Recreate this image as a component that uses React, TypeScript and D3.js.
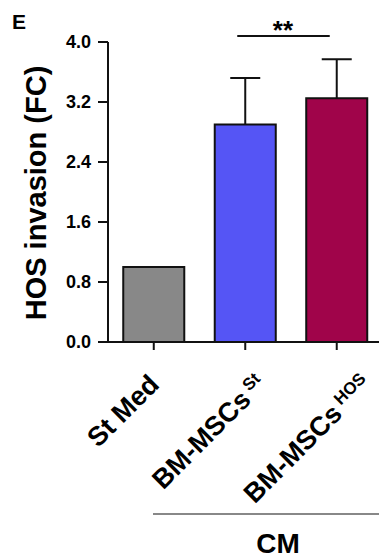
import React, { useEffect, useRef } from "react";
import * as d3 from "d3";

const categories = ["St Med", "BM-MSCs", "BM-MSCs"];
const superscripts = ["", "St", "HOS"];
const means = [1.0, 2.9, 3.25];
const errors = [0, 0.62, 0.52];
const colors = ["#888888", "#5555f5", "#a0044a"];
const yTicks = [0.0, 0.8, 1.6, 2.4, 3.2, 4.0];
const yLabel = "HOS invasion (FC)";
const panelLabel = "E";
const sigLabel = "**";
const groupLabel = "CM";

const W = 379;
const H = 560;
const FONT = "'Liberation Sans', Arial, Helvetica, sans-serif";

export default function App() {
  const ref = useRef<SVGSVGElement | null>(null);

  useEffect(() => {
    const svg = d3.select(ref.current);
    svg.selectAll("*").remove();

    const axisX = 108;
    const y = d3.scaleLinear().domain([0, 4]).range([342, 42]);
    const x = d3
      .scaleBand<number>()
      .domain(d3.range(categories.length))
      .range([axisX, 382.5])
      .paddingInner(0.333)
      .paddingOuter(0.1667);

    const g = svg.append("g").attr("font-family", FONT).attr("font-weight", "bold");

    // panel label
    g.append("text").attr("x", 12).attr("y", 29).attr("font-size", 21).text(panelLabel);

    // y label
    g.append("text")
      .attr("transform", `translate(46,193) rotate(-90)`)
      .attr("text-anchor", "middle")
      .attr("font-size", 29)
      .text(yLabel);

    // bars
    categories.forEach((c, i) => {
      const bx = x(i)!;
      const bw = x.bandwidth();
      g.append("rect")
        .attr("x", bx)
        .attr("y", y(means[i]))
        .attr("width", bw)
        .attr("height", y(0) - y(means[i]))
        .attr("fill", colors[i])
        .attr("stroke", "#111")
        .attr("stroke-width", 2);
      if (errors[i] > 0) {
        const cx = bx + bw / 2;
        g.append("line")
          .attr("x1", cx).attr("x2", cx)
          .attr("y1", y(means[i])).attr("y2", y(means[i] + errors[i]))
          .attr("stroke", "#111").attr("stroke-width", 2);
        g.append("line")
          .attr("x1", cx - 15).attr("x2", cx + 15)
          .attr("y1", y(means[i] + errors[i])).attr("y2", y(means[i] + errors[i]))
          .attr("stroke", "#111").attr("stroke-width", 2);
      }
    });

    // y axis
    g.append("line")
      .attr("x1", axisX).attr("x2", axisX)
      .attr("y1", y(4)).attr("y2", y(0) + 1)
      .attr("stroke", "#111").attr("stroke-width", 2);
    yTicks.forEach((t) => {
      g.append("line")
        .attr("x1", axisX - 10).attr("x2", axisX)
        .attr("y1", y(t)).attr("y2", y(t))
        .attr("stroke", "#111").attr("stroke-width", 2);
      g.append("text")
        .attr("x", axisX - 17)
        .attr("y", y(t))
        .attr("dy", "0.36em")
        .attr("text-anchor", "end")
        .attr("font-size", 18)
        .text(t.toFixed(1));
    });

    // x axis
    g.append("line")
      .attr("x1", axisX - 1).attr("x2", W)
      .attr("y1", y(0)).attr("y2", y(0))
      .attr("stroke", "#111").attr("stroke-width", 2);
    const ang = 45;
    const a = (ang * Math.PI) / 180;
    categories.forEach((c, i) => {
      const cx = x(i)! + x.bandwidth() / 2;
      g.append("line")
        .attr("x1", cx).attr("x2", cx)
        .attr("y1", y(0)).attr("y2", y(0) + 8)
        .attr("stroke", "#111").attr("stroke-width", 2);

      const t = g.append("text").attr("text-anchor", "end").attr("font-size", 27);
      t.append("tspan").text(c);
      let supLen = 0;
      if (superscripts[i]) {
        const sp = t.append("tspan").attr("font-size", 17).attr("dy", -9).text("\u00a0" + superscripts[i]);
        supLen = (sp.node() as SVGTSpanElement).getComputedTextLength();
      }
      const ax = cx + 7 + Math.cos(a) * supLen;
      const ay = y(0) + 44;
      t.attr("transform", `translate(${ax},${ay}) rotate(${-ang})`);
    });

    // significance
    const c1 = x(1)! + x.bandwidth() / 2;
    const c2 = x(2)! + x.bandwidth() / 2;
    g.append("line")
      .attr("x1", c1 - 8).attr("x2", c2 - 7)
      .attr("y1", 36).attr("y2", 36)
      .attr("stroke", "#111").attr("stroke-width", 2);
    g.append("text")
      .attr("x", (c1 + c2) / 2 - 8)
      .attr("y", 39)
      .attr("text-anchor", "middle")
      .attr("font-size", 26)
      .text(sigLabel);

    // group bracket
    g.append("line")
      .attr("x1", 153).attr("x2", W)
      .attr("y1", 514).attr("y2", 514)
      .attr("stroke", "#888").attr("stroke-width", 2);
    g.append("text")
      .attr("x", (c1 + c2) / 2 - 13)
      .attr("y", 553)
      .attr("text-anchor", "middle")
      .attr("font-size", 28)
      .text(groupLabel);
  }, []);

  return (
    <svg
      ref={ref}
      width={W}
      height={H}
      style={{ position: "absolute", left: 0, top: 0, background: "#fff" }}
    />
  );
}
